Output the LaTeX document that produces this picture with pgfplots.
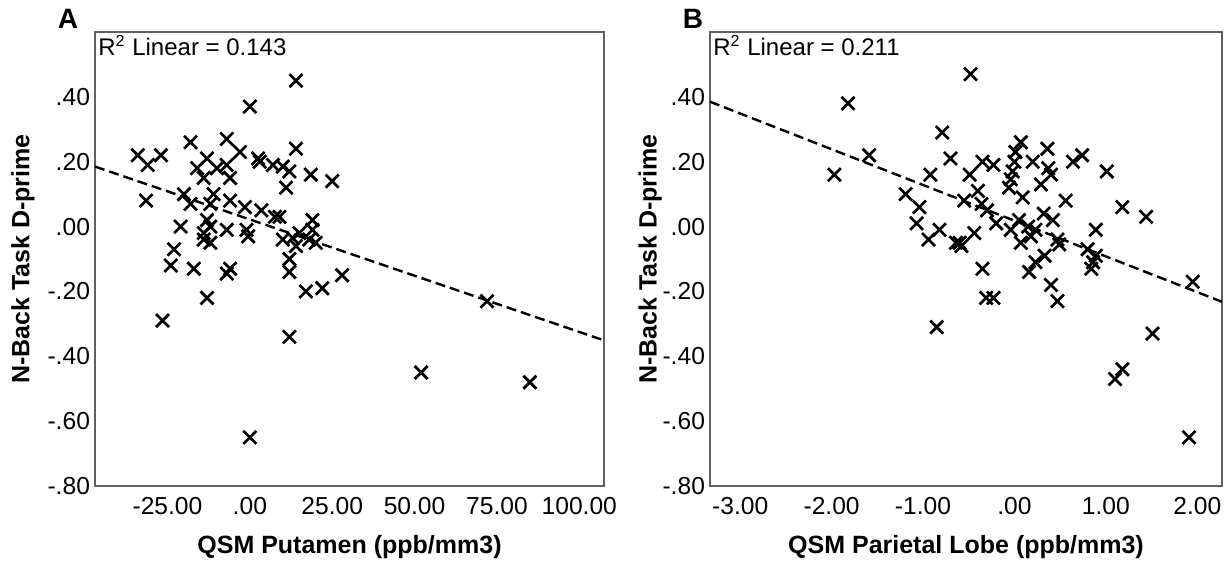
\documentclass[border=0pt]{standalone}
\usepackage{fontspec}
\setmainfont{Liberation Sans}
\usepackage{pgfplots}
\pgfplotsset{compat=1.18}

\pgfplotsset{
  spss/.style={
    scale only axis,
    height=227pt,
    ymin=-0.8, ymax=0.6,
    ytick={-0.8,-0.6,-0.4,-0.2,0,0.2,0.4},
    yticklabels={-.80,-.60,-.40,-.20,.00,.20,.40},
    axis line style={gray!75!black, line width=0.7pt},
    major tick length=0pt,
    tick label style={font=\fontsize{12.3}{14}\selectfont},
    yticklabel style={xshift=1pt},
    xticklabel style={yshift=-2pt},
    clip=false,
  },
  pts/.style={only marks, mark=x, mark size=4.6pt, line width=1.35pt, black},
  fit/.style={no marks, black, line width=1.2pt, dash pattern=on 5pt off 2.5pt},
}

\begin{document}
\begin{tikzpicture}
\path[use as bounding box] (-47.5pt,-38pt) rectangle (568.5pt,243pt);

% panel A: putamen
\begin{axis}[spss,
  at={(0pt,0pt)}, anchor=south west,
  width=254.5pt,
  xmin=-47, xmax=107.5,
  xtick={-25,0,25,50,75,100},
  xticklabels={-25.00,.00,25.00,50.00,75.00,100.00},
  xlabel={QSM Putamen (ppb/mm3)},
  ylabel={N-Back Task D-prime},
  xlabel style={at={(axis description cs:0.5,-0.134)}, anchor=center,
    font=\fontsize{12.5}{14}\selectfont\bfseries},
  ylabel style={at={(axis description cs:-0.1415,0.5)}, anchor=center, rotate=0,
    font=\fontsize{12.5}{14}\selectfont\bfseries},
]
\addplot[fit] coordinates {(-47,0.185) (107.5,-0.351)};
\addplot[pts] coordinates {
  (-34,0.22) (-27,0.22) (-31,0.19) (-31.5,0.08) (-26.5,-0.29)
  (-24,-0.12) (-23,-0.07) (-21,0.0) (-20,0.10) (-18,0.07)
  (-18,0.26) (-16,0.18) (-17,-0.13) (-14,0.15) (-13,0.21)
  (-11,0.10) (-12,0.07) (-10,0.18) (-13,0.02) (-12,0.0)
  (-14,-0.02) (-14,-0.04) (-12,-0.05) (-13,-0.22) (-7,0.27)
  (-7,0.19) (-6,0.15) (-6,0.08) (-7,-0.01) (-6,-0.13)
  (-7,-0.145) (-3,0.23) (-1.5,0.06) (-1,-0.01) (-0.5,-0.03)
  (0,0.37) (0,-0.65) (2.5,0.21) (3,0.20) (3.5,0.05)
  (7,0.19) (10,0.185) (7.6,0.03) (9,0.03) (12,0.17)
  (11,0.12) (10,-0.04) (13,-0.035) (15,-0.02) (14,-0.06)
  (12,-0.10) (12,-0.14) (12,-0.34) (14,0.24) (14,0.45)
  (17,-0.20) (18.5,0.16) (19,0.02) (19,-0.01) (18,-0.04)
  (20,-0.05) (22,-0.19) (25,0.14) (28,-0.15) (52,-0.45)
  (72,-0.23) (85,-0.48)
};
\node[anchor=north west, inner sep=1.5pt, font=\fontsize{12}{14}\selectfont]
  at (axis description cs:0,1) {R\textsuperscript{2} Linear = 0.143};
\node[font=\fontsize{14}{16}\selectfont\bfseries]
  at (axis description cs:-0.053,1.028) {A};
\end{axis}

% panel B: parietal lobe
\begin{axis}[spss,
  at={(307.5pt,0pt)}, anchor=south west,
  width=256pt,
  xmin=-3.33, xmax=2.27,
  xtick={-3,-2,-1,0,1,2},
  xticklabels={-3.00,-2.00,-1.00,.00,1.00,2.00},
  xlabel={QSM Parietal Lobe (ppb/mm3)},
  ylabel={N-Back Task D-prime},
  xlabel style={at={(axis description cs:0.5,-0.134)}, anchor=center,
    font=\fontsize{12.5}{14}\selectfont\bfseries},
  ylabel style={at={(axis description cs:-0.117,0.5)}, anchor=center, rotate=0,
    font=\fontsize{12.5}{14}\selectfont\bfseries},
]
\addplot[fit] coordinates {(-3.33,0.385) (2.27,-0.232)};
\addplot[pts] coordinates {
  (-1.97,0.16) (-1.82,0.38) (-1.59,0.22) (-1.19,0.10) (-1.04,0.06)
  (-1.07,0.01) (-0.94,-0.04) (-0.92,0.16) (-0.85,-0.31) (-0.82,-0.01)
  (-0.79,0.29) (-0.70,0.21) (-0.64,-0.05) (-0.60,-0.05) (-0.58,-0.06)
  (-0.55,0.08) (-0.49,0.16) (-0.48,0.47) (-0.44,-0.02) (-0.40,0.11)
  (-0.36,0.07) (-0.35,0.20) (-0.35,-0.13) (-0.31,-0.22) (-0.30,0.05)
  (-0.23,0.19) (-0.23,-0.22) (-0.20,0.01) (-0.06,0.12) (-0.04,0.146)
  (-0.04,-0.01) (-0.02,0.17) (0.0,0.20) (0.01,0.23) (0.05,0.02)
  (0.07,0.26) (0.07,-0.05) (0.09,0.09) (0.15,0.0) (0.16,-0.14)
  (0.18,-0.03) (0.20,0.20) (0.23,-0.01) (0.23,-0.11) (0.29,0.13)
  (0.32,0.04) (0.33,-0.09) (0.36,0.24) (0.37,0.18) (0.40,0.16)
  (0.40,-0.18) (0.42,0.02) (0.47,-0.04) (0.47,-0.23) (0.49,-0.055)
  (0.56,0.08) (0.64,0.20) (0.74,0.22) (0.80,-0.07) (0.84,-0.13)
  (0.86,-0.11) (0.89,-0.01) (0.89,-0.09) (1.01,0.17) (1.10,-0.47)
  (1.18,0.06) (1.18,-0.44) (1.44,0.03) (1.51,-0.33) (1.91,-0.65)
  (1.95,-0.17)
};
\node[anchor=north west, inner sep=1.5pt, font=\fontsize{12}{14}\selectfont]
  at (axis description cs:0,1) {R\textsuperscript{2} Linear = 0.211};
\node[font=\fontsize{14}{16}\selectfont\bfseries]
  at (axis description cs:-0.033,1.028) {B};
\end{axis}
\end{tikzpicture}
\end{document}
